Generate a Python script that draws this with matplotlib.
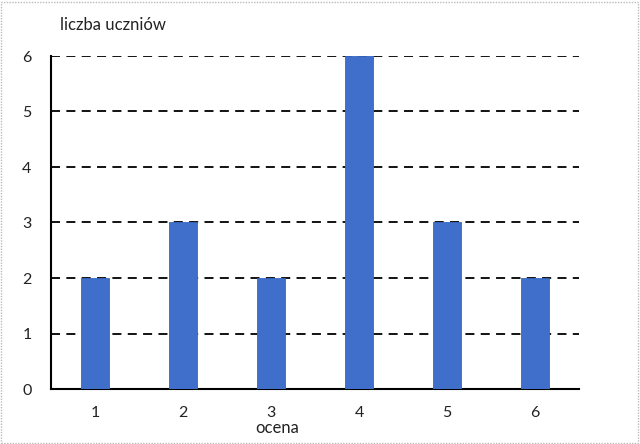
import matplotlib
matplotlib.use("Agg")
import matplotlib.pyplot as plt
from matplotlib.patches import Rectangle

grades = ["1", "2", "3", "4", "5", "6"]
counts = [2, 3, 2, 6, 3, 2]
yticks = [0, 1, 2, 3, 4, 5, 6]

plt.rcParams['font.family'] = ['Lato', 'DejaVu Sans']

fig = plt.figure(figsize=(6.4, 4.44), dpi=100)
ax = fig.add_axes([51/640, 1-389/444, 528/640, 333/444])

x = list(range(1, len(grades) + 1))
ax.bar(x, counts, width=0.31, color="#3F6FCA", edgecolor="#3866C2", linewidth=0.6, zorder=3)

ax.set_xlim(0.5, 6.5)
ax.set_ylim(0, 6)
ax.set_yticks(yticks)
ax.set_xticks(x)
ax.set_xticklabels(grades)
ax.tick_params(axis='both', length=0, labelsize=11.5, colors="#222222")
ax.tick_params(axis='x', pad=12)
ax.tick_params(axis='y', pad=14)

for v in yticks[1:]:
    ax.axhline(v, color="black", linestyle=(0, (5, 3.5)), linewidth=1.3, zorder=1)

for s in ["top", "right"]:
    ax.spines[s].set_visible(False)
ax.spines["left"].set_linewidth(1.5)
ax.spines["bottom"].set_linewidth(1.5)

fig.text(60/640, 1-25/444, "liczba uczniów", fontsize=12, va="center", ha="left", color="#222222")
fig.text(277/640, 1-428/444, "ocena", fontsize=12, va="center", ha="center", color="#222222")

border = Rectangle((0.002, 0.003), 0.995, 0.993, transform=fig.transFigure, fill=False,
                   edgecolor="#BBBBBB", linestyle=(0, (1, 1)), linewidth=1)
fig.patches.append(border)

fig.savefig("out.png", dpi=100)
